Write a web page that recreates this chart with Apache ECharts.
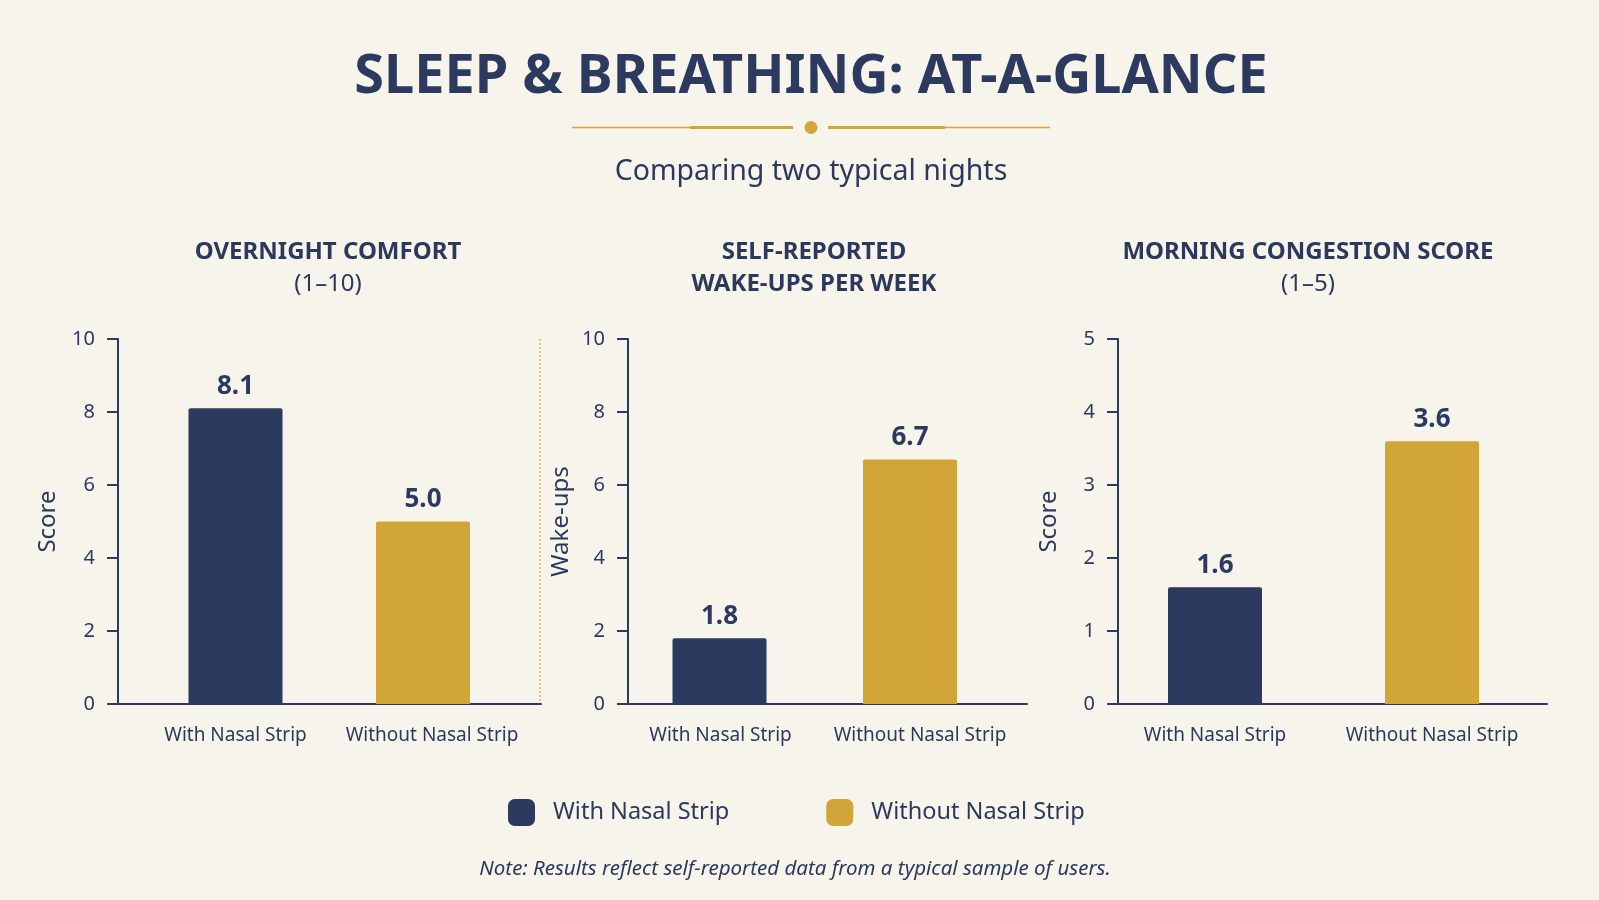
<!DOCTYPE html>
<html>
<head>
<meta charset="utf-8">
<script src="https://cdn.jsdelivr.net/npm/echarts@6/dist/echarts.min.js"></script>
<style>
  html,body{margin:0;padding:0;background:#f7f4ec;}
  #chart{width:1599px;height:900px;}
</style>
</head>
<body>
<div id="chart"></div>
<script>
// ---- data ----
const categories = ['With Nasal Strip', 'Without Nasal Strip'];
const comfortValues = [8.1, 5.0];
const wakeupValues = [1.8, 6.7];
const congestionValues = [1.6, 3.6];
const panelValues = [comfortValues, wakeupValues, congestionValues];
const axisMax = [10, 10, 5];
const axisInterval = [2, 2, 1];
const axisNames = ['Score', 'Wake-ups', 'Score'];
const panelTitles = [
  ['OVERNIGHT COMFORT', '(1–10)'],
  ['SELF-REPORTED', 'WAKE-UPS PER WEEK'],
  ['MORNING CONGESTION SCORE', '(1–5)']
];
const mainTitle = 'SLEEP & BREATHING: AT-A-GLANCE';
const subTitle = 'Comparing two typical nights';
const noteText = 'Note: Results reflect self-reported data from a typical sample of users.';

// ---- layout / style ----
const NAVY = '#2b3a5e';
const GOLD = '#d1a537';
const TEXT = '#2b3a5c';
const FONT = '"Noto Sans", "Open Sans", sans-serif';
const seriesColors = [NAVY, GOLD];
const layout = [
  {axisL: 118, axisR: 541, barL: 141.75, barR: 516.75, titleX: 328, nameGap: 58, line2Bold: false, labelShift: [0, 18]},
  {axisL: 628, axisR: 1027, barL: 624.25, barR: 1005.25, titleX: 814, nameGap: 55, line2Bold: true, labelShift: [2, 20]},
  {axisL: 1118, axisR: 1547, barL: 1106.5, barR: 1540.5, titleX: 1308, nameGap: 57, line2Bold: false, labelShift: [0, 0]}
];
const W = 1599, H = 900, TOP = 339, AXIS_Y = 704;

const grid = [], xAxis = [], yAxis = [], series = [], graphic = [];

layout.forEach((L, p) => {
  const gA = grid.length;
  grid.push({left: L.axisL, right: W - L.axisR, top: TOP, bottom: H - AXIS_Y, containLabel: false});
  grid.push({left: L.barL, right: W - L.barR, top: TOP, bottom: H - AXIS_Y, containLabel: false});
  // axis grid
  xAxis.push({
    type: 'category', gridIndex: gA, data: [''],
    axisLine: {show: true, lineStyle: {color: NAVY, width: 2}},
    axisTick: {show: false}, axisLabel: {show: false}, splitLine: {show: false}
  });
  yAxis.push({
    type: 'value', gridIndex: gA, min: 0, max: axisMax[p], interval: axisInterval[p],
    name: axisNames[p], nameLocation: 'middle', nameGap: L.nameGap,
    nameTextStyle: {color: TEXT, fontSize: 24, fontFamily: FONT},
    axisLine: {show: true, lineStyle: {color: NAVY, width: 2}},
    axisTick: {show: true, length: 11, lineStyle: {color: NAVY, width: 2}},
    axisLabel: {color: TEXT, fontSize: 20, fontFamily: FONT, margin: 23},
    splitLine: {show: false}
  });
  // bar grid
  xAxis.push({
    type: 'category', gridIndex: gA + 1,
    data: categories.map((c, i) => ({value: c, textStyle: {padding: [0, 0, 0, L.labelShift[i]]}})),
    axisLine: {show: false}, axisTick: {show: false},
    axisLabel: {color: TEXT, fontSize: 19, fontFamily: FONT, margin: 22, interval: 0}
  });
  yAxis.push({
    type: 'value', gridIndex: gA + 1, min: 0, max: axisMax[p], interval: axisInterval[p], show: false
  });
  categories.forEach((c, i) => {
    const data = categories.map((_, j) => j === i ? panelValues[p][i] : '-');
    series.push({
      type: 'bar', name: c, xAxisIndex: gA + 1, yAxisIndex: gA + 1,
      data: data, barWidth: 94, barGap: '-100%',
      itemStyle: {color: seriesColors[i], borderRadius: [2, 2, 0, 0]},
      label: {
        show: true, position: 'top', distance: 9,
        color: NAVY, fontSize: 26, fontWeight: 'bold', fontFamily: FONT,
        formatter: (d) => Number(d.value).toFixed(1)
      },
      emphasis: {disabled: true}
    });
  });
  // panel titles
  graphic.push({type: 'text', x: L.titleX, y: 252, style: {
    text: panelTitles[p][0], fill: TEXT, font: 'bold 24px ' + FONT, textAlign: 'center', textVerticalAlign: 'middle'}});
  graphic.push({type: 'text', x: L.titleX, y: 284, style: {
    text: panelTitles[p][1], fill: TEXT, font: (L.line2Bold ? 'bold ' : '') + '24px ' + FONT, textAlign: 'center', textVerticalAlign: 'middle'}});
});

// title, ornament, subtitle, note
graphic.push({type: 'text', x: 811, y: 78, style: {text: mainTitle, fill: NAVY, font: 'bold 54px ' + FONT, textAlign: 'center', textVerticalAlign: 'middle'}});
graphic.push({type: 'line', shape: {x1: 572, y1: 127.5, x2: 793, y2: 127.5}, style: {stroke: GOLD, lineWidth: 1.5}});
graphic.push({type: 'line', shape: {x1: 690, y1: 127.5, x2: 793, y2: 127.5}, style: {stroke: GOLD, lineWidth: 3}});
graphic.push({type: 'line', shape: {x1: 828, y1: 127.5, x2: 1050, y2: 127.5}, style: {stroke: GOLD, lineWidth: 1.5}});
graphic.push({type: 'line', shape: {x1: 828, y1: 127.5, x2: 945, y2: 127.5}, style: {stroke: GOLD, lineWidth: 3}});
graphic.push({type: 'circle', shape: {cx: 811, cy: 127.5, r: 6.5}, style: {fill: GOLD}});
graphic.push({type: 'text', x: 811, y: 172, style: {text: subTitle, fill: TEXT, font: '28.5px ' + FONT, textAlign: 'center', textVerticalAlign: 'middle'}});
graphic.push({type: 'line', shape: {x1: 540, y1: 339, x2: 540, y2: 704}, style: {stroke: GOLD, lineWidth: 1.2, lineDash: [2, 2]}});
graphic.push({type: 'text', x: 795, y: 869, style: {text: noteText, fill: TEXT, font: 'italic 20.5px ' + FONT, textAlign: 'center', textVerticalAlign: 'middle'}});

const chart = echarts.init(document.getElementById('chart'), null, {renderer: 'canvas'});
chart.setOption({
  backgroundColor: '#f7f4ec',
  animation: false,
  textStyle: {fontFamily: FONT},
  legend: {
    data: categories, left: 503, top: 794,
    icon: 'roundRect', itemWidth: 27, itemHeight: 27, itemGap: 97,
    selectedMode: false,
    textStyle: {color: TEXT, fontSize: 23.5, fontFamily: FONT, padding: [0, 0, 0, 13]}
  },
  grid, xAxis, yAxis, series, graphic
});
</script>
</body>
</html>
